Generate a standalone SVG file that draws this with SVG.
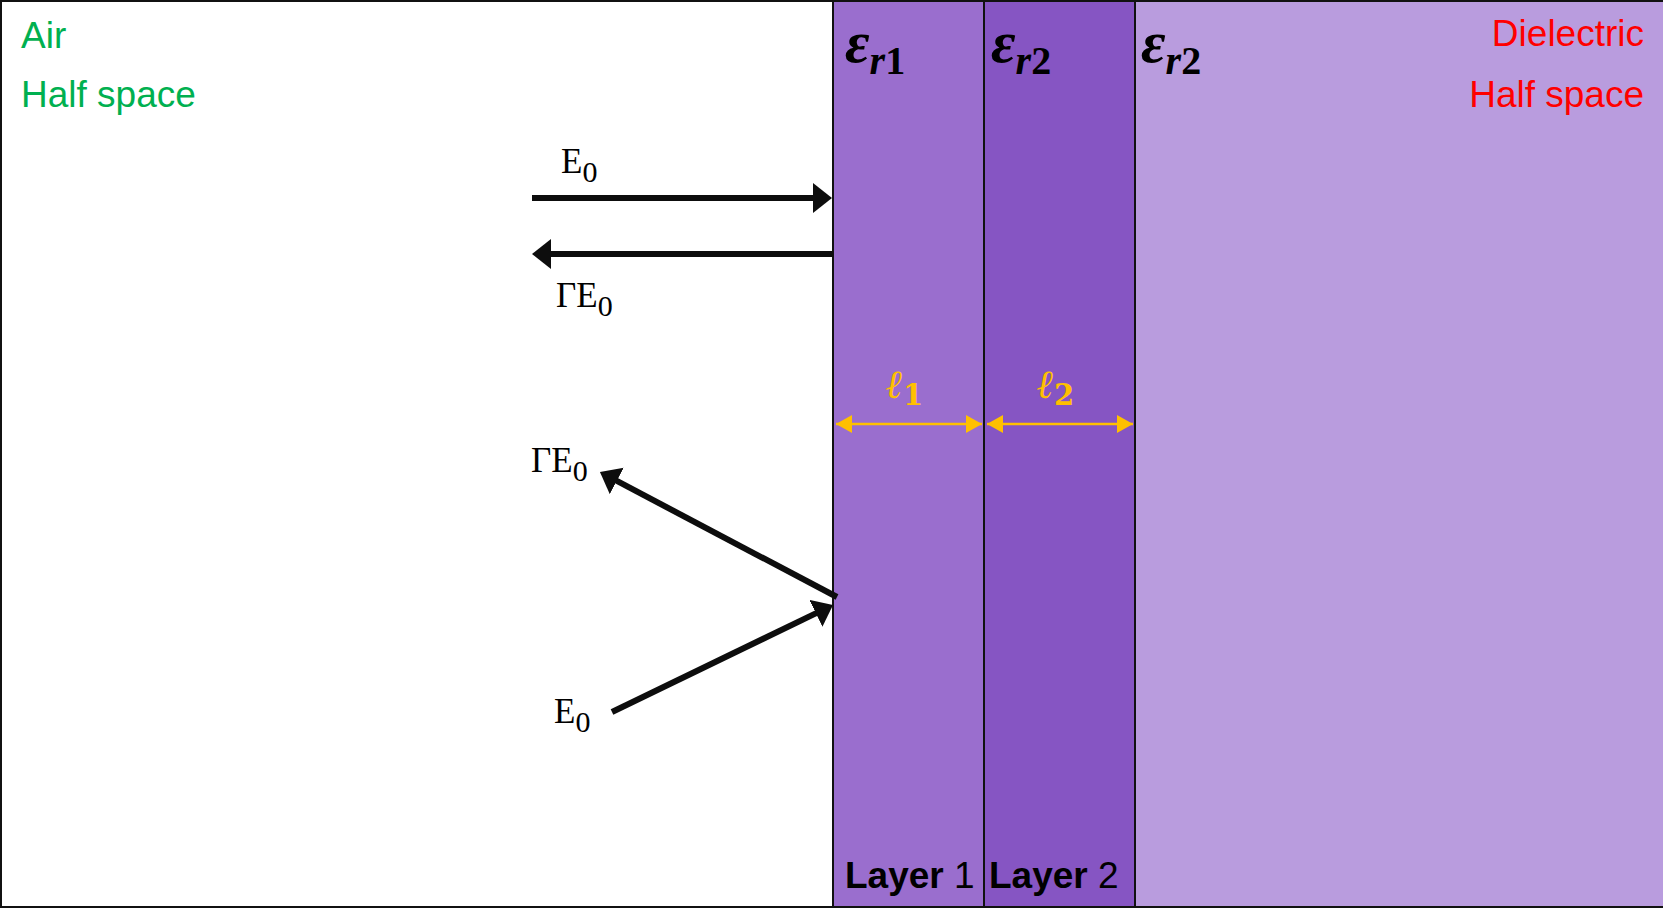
<svg xmlns="http://www.w3.org/2000/svg" width="1663" height="909" viewBox="0 0 1663 909">
<style>
.sans{font-family:"Liberation Sans",Arial,sans-serif;}
.eps{font-family:"Liberation Serif","DejaVu Serif",serif;font-weight:bold;font-style:italic;fill:#000;}
.lab{font-family:"Liberation Serif","DejaVu Serif",serif;font-size:35px;fill:#000;}
.ell{font-family:"DejaVu Serif","Liberation Serif",serif;font-weight:bold;font-style:italic;fill:#FFC000;}
.arr{stroke:#0d0d0d;stroke-width:6;fill:none;}
.dim{stroke:#FFC000;stroke-width:2.5;fill:none;}
.div{stroke:#111;stroke-width:2;}
</style>
<defs>
<marker id="ah" viewBox="-9 -15 19 30" markerWidth="19" markerHeight="30" refX="0" refY="0" orient="auto" markerUnits="userSpaceOnUse">
<path d="M-9,-15 L10,0 L-9,15 z" fill="#0d0d0d"/>
</marker>
<marker id="gh" viewBox="-16 -9 16 18" markerWidth="16" markerHeight="18" refX="0" refY="0" orient="auto-start-reverse" markerUnits="userSpaceOnUse">
<path d="M-16,-9 L0,0 L-16,9 z" fill="#FFC000"/>
</marker>
</defs>
<rect x="0" y="0" width="1663" height="909" fill="#fff"/>
<g id="air">
<rect x="1" y="1" width="832" height="906" fill="#fff"/>
<text class="sans" x="21" y="48" font-size="37" fill="#00B050">Air</text>
<text class="sans" x="21" y="107" font-size="37" fill="#00B050">Half space</text>
</g>
<g id="layer1">
<rect x="833" y="1" width="151" height="906" fill="#9A6ECE"/>
<text class="eps" x="845" y="62" font-size="60">ε<tspan font-size="40" dy="12">r</tspan><tspan font-size="40" font-style="normal">1</tspan></text>
<text class="sans" x="845" y="888" font-size="37"><tspan font-weight="bold">Layer</tspan> 1</text>
</g>
<g id="layer2">
<rect x="984" y="1" width="151" height="906" fill="#8655C3"/>
<text class="eps" x="991" y="62" font-size="60">ε<tspan font-size="40" dy="12">r</tspan><tspan font-size="40" font-style="normal">2</tspan></text>
<text class="sans" x="989" y="888" font-size="37"><tspan font-weight="bold">Layer</tspan> 2</text>
</g>
<g id="dielectric">
<rect x="1135" y="1" width="530" height="906" fill="#B99CDE"/>
<text class="eps" x="1141" y="62" font-size="60">ε<tspan font-size="40" dy="12">r</tspan><tspan font-size="40" font-style="normal">2</tspan></text>
<text class="sans" x="1644" y="46" font-size="37" fill="#FF0000" text-anchor="end">Dielectric</text>
<text class="sans" x="1644" y="107" font-size="37" fill="#FF0000" text-anchor="end">Half space</text>
</g>
<g id="borders">
<rect x="1" y="1" width="1670" height="906" fill="none" stroke="#111" stroke-width="2"/>
<line class="div" x1="833" y1="1" x2="833" y2="907"/>
<line class="div" x1="984" y1="1" x2="984" y2="907"/>
<line class="div" x1="1135" y1="1" x2="1135" y2="907"/>
</g>
<g id="connectors">
<line class="arr" x1="532" y1="198" x2="822" y2="198" marker-end="url(#ah)"/>
<line class="arr" x1="833" y1="254" x2="542" y2="254" marker-end="url(#ah)"/>
<line class="arr" x1="837" y1="597" x2="608.8" y2="476.7" marker-end="url(#ah)"/>
<line class="arr" x1="612" y1="712" x2="824" y2="609.4" marker-end="url(#ah)"/>
<line class="dim" x1="836" y1="424" x2="982" y2="424" marker-start="url(#gh)" marker-end="url(#gh)"/>
<line class="dim" x1="987" y1="424" x2="1133" y2="424" marker-start="url(#gh)" marker-end="url(#gh)"/>
</g>
<g id="labels">
<text class="lab" x="561" y="173">E<tspan font-size="30" dy="9">0</tspan></text>
<text class="lab" x="556" y="307">ΓE<tspan font-size="30" dy="9">0</tspan></text>
<text class="lab" x="531" y="472">ΓE<tspan font-size="30" dy="9">0</tspan></text>
<text class="lab" x="554" y="723">E<tspan font-size="30" dy="9">0</tspan></text>
<text class="ell" x="886" y="398" font-size="40">ℓ<tspan font-size="29" dy="7" font-style="normal">1</tspan></text>
<text class="ell" x="1037" y="398" font-size="40">ℓ<tspan font-size="29" dy="7" font-style="normal">2</tspan></text>
</g>
</svg>
